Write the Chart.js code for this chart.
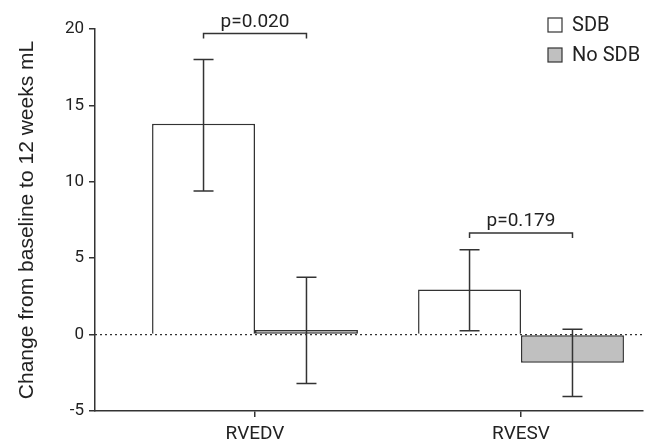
<!DOCTYPE html>
<html>
<head>
<meta charset="utf-8">
<script src="https://cdn.jsdelivr.net/npm/chart.js@4.4.1/dist/chart.umd.min.js"></script>
<style>
  html, body { margin: 0; padding: 0; background: #fff; }
  #wrap { width: 658px; height: 442px; }
</style>
</head>
<body>
<div id="wrap"><canvas id="grafico"></canvas></div>
<script>
const categories = ['RVEDV', 'RVESV'];
const seriesNames = ['SDB', 'No SDB'];
const sdbMean = [13.8, 2.95];
const sdbLow = [9.4, 0.25];
const sdbHigh = [18.0, 5.55];
const noSdbMean = [0.3, -1.85];
const noSdbLow = [-3.2, -4.05];
const noSdbHigh = [3.75, 0.35];
const pLabels = ['p=0.020', 'p=0.179'];
const pBracketY = [19.7, 6.65];
const yMin = -5, yMax = 20, yStep = 5;

const ink = '#333';
const lows = [sdbLow, noSdbLow];
const highs = [sdbHigh, noSdbHigh];

Chart.defaults.font.family = 'Roboto';
Chart.defaults.color = '#222';

const extras = {
    id: 'extras',
    afterDatasetsDraw(chart) {
        const { ctx, chartArea, scales: { x, y } } = chart;
        ctx.save();
        // dotted zero line
        const y0 = y.getPixelForValue(0);
        ctx.strokeStyle = ink;
        ctx.lineWidth = 1.2;
        ctx.setLineDash([2, 3]);
        ctx.beginPath();
        ctx.moveTo(chartArea.left, y0);
        ctx.lineTo(chartArea.right, y0);
        ctx.stroke();
        ctx.setLineDash([]);

        // error bars
        ctx.lineWidth = 1.5;
        chart.data.datasets.forEach((ds, d) => {
            chart.getDatasetMeta(d).data.forEach((bar, i) => {
                const yl = y.getPixelForValue(lows[d][i]);
                const yh = y.getPixelForValue(highs[d][i]);
                ctx.beginPath();
                ctx.moveTo(bar.x, yl); ctx.lineTo(bar.x, yh);
                ctx.moveTo(bar.x - 10, yl); ctx.lineTo(bar.x + 10, yl);
                ctx.moveTo(bar.x - 10, yh); ctx.lineTo(bar.x + 10, yh);
                ctx.stroke();
            });
        });

        // p-value brackets
        const m0 = chart.getDatasetMeta(0).data;
        const m1 = chart.getDatasetMeta(1).data;
        ctx.font = '19px Roboto';
        ctx.fillStyle = '#222';
        ctx.textAlign = 'center';
        ctx.textBaseline = 'alphabetic';
        pLabels.forEach((lab, i) => {
            const by = y.getPixelForValue(pBracketY[i]);
            const xa = m0[i].x, xb = m1[i].x;
            ctx.beginPath();
            ctx.moveTo(xa, by + 5); ctx.lineTo(xa, by); ctx.lineTo(xb, by); ctx.lineTo(xb, by + 5);
            ctx.stroke();
            ctx.fillText(lab, (xa + xb) / 2, by - 7);
        });

        // legend
        ctx.font = '20px Roboto';
        ctx.textAlign = 'left';
        ctx.textBaseline = 'middle';
        ctx.lineWidth = 1.2;
        chart.data.datasets.forEach((ds, d) => {
            const bx = chartArea.right - 95;
            const cy = 25 + d * 30;
            ctx.fillStyle = ds.backgroundColor;
            ctx.fillRect(bx, cy - 7, 14, 14);
            ctx.strokeStyle = ink;
            ctx.strokeRect(bx, cy - 7, 14, 14);
            ctx.fillStyle = '#222';
            ctx.fillText(ds.label, bx + 24, cy + 1);
        });
        ctx.restore();
    }
};

new Chart(document.getElementById('grafico'), {
    type: 'bar',
    data: {
        datasets: [{
            label: seriesNames[0],
            data: sdbMean.map((v, i) => ({ x: i, y: v })),
            backgroundColor: '#ffffff',
            borderColor: ink,
            borderWidth: 1.5,
            borderSkipped: 'start'
        }, {
            label: seriesNames[1],
            data: noSdbMean.map((v, i) => ({ x: i, y: v })),
            backgroundColor: '#c0c0c0',
            borderColor: ink,
            borderWidth: 1.5,
            borderSkipped: false
        }]
    },
    options: {
        responsive: true,
        maintainAspectRatio: false,
        animation: false,
        categoryPercentage: 0.774,
        barPercentage: 1,
        layout: { padding: { top: 29, right: 15, left: 0, bottom: 0 } },
        plugins: {
            legend: { display: false },
            tooltip: { enabled: false }
        },
        scales: {
            x: {
                type: 'linear',
                min: -0.6015,
                max: 1.4586,
                offset: false,
                afterBuildTicks: (scale) => {
                    scale.ticks = categories.map((c, i) => ({ value: i }));
                },
                afterFit: (scale) => { scale.height = 31; },
                grid: { offset: false, drawOnChartArea: false, tickLength: 6, color: ink, lineWidth: 1.5 },
                border: { color: ink, width: 1.5 },
                ticks: {
                    padding: 6,
                    font: { size: 19 },
                    color: '#222',
                    maxRotation: 0,
                    autoSkip: false,
                    callback: (v) => categories[v]
                }
            },
            y: {
                min: yMin,
                max: yMax,
                afterFit: (scale) => { scale.width = 95; },
                grid: { drawOnChartArea: false, tickLength: 6, color: ink, lineWidth: 1.5 },
                border: { color: ink, width: 1.5 },
                ticks: { stepSize: yStep, padding: 5, font: { size: 17 }, color: '#222' },
                title: {
                    display: true,
                    text: 'Change from baseline to 12 weeks mL',
                    font: { family: 'Liberation Sans', size: 21 },
                    color: '#222',
                    padding: { top: 15, bottom: 0 }
                }
            }
        }
    },
    plugins: [extras]
});
</script>
</body>
</html>
